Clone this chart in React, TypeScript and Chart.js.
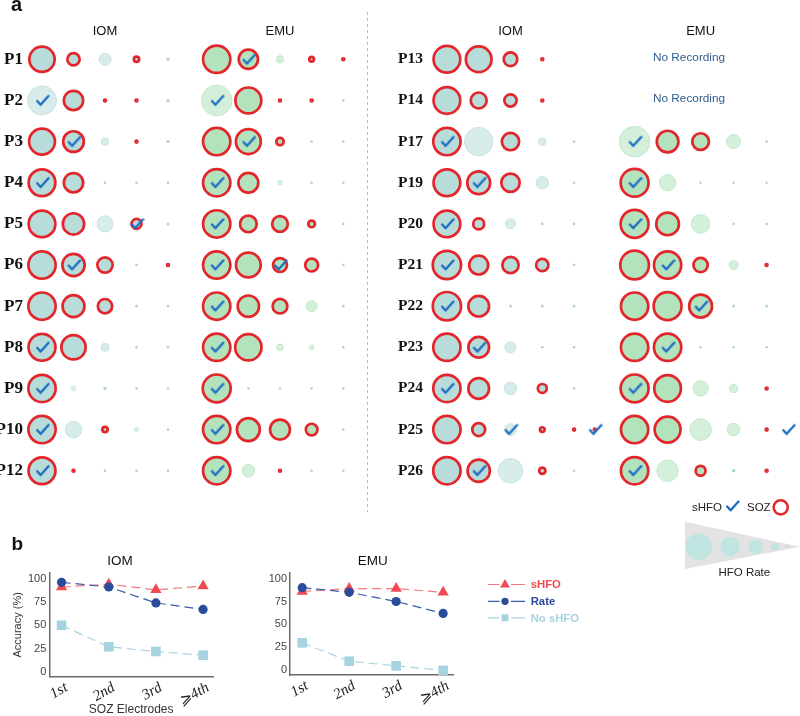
import React, { useEffect, useRef } from 'react';
import { Chart, registerables } from 'chart.js';

Chart.register(...registerables);

// ---------------- data ----------------
const LEFT_PATIENTS = ['P1', 'P2', 'P3', 'P4', 'P5', 'P6', 'P7', 'P8', 'P9', 'P10', 'P12'];
const RIGHT_PATIENTS = ['P13', 'P14', 'P17', 'P19', 'P20', 'P21', 'P22', 'P23', 'P24', 'P25', 'P26'];

// relative HFO rate per electrode (ranked), SOZ flag, sHFO flag
const IOM_L_RATE = [
  [14, 7.5, 6, 4, 1.5], [14.5, 11, 2.3, 2.3, 1.5], [14.3, 11.7, 3.7, 2.3, 1.5], [14.7, 11, 1.3, 1.3, 1.3],
  [14.7, 12, 8, 6.3, 1.5], [15, 12.5, 9, 1.3, 2.3], [15, 12.3, 8.5, 1.3, 1.3], [14.8, 13.5, 4, 1.3, 1.3],
  [15, 3, 1.7, 1.3, 1.3], [15, 8.3, 4, 2.7, 1.3], [14.8, 2.3, 1.3, 1.3, 1.3],
];
const IOM_L_SOZ = [
  [1, 1, 0, 1, 0], [0, 1, 1, 1, 0], [1, 1, 0, 1, 0], [1, 1, 0, 0, 0], [1, 1, 0, 1, 0], [1, 1, 1, 0, 1],
  [1, 1, 1, 0, 0], [1, 1, 0, 0, 0], [1, 0, 0, 0, 0], [1, 0, 1, 0, 0], [1, 1, 0, 0, 0],
];
const IOM_L_SHFO = [
  [0, 0, 0, 0, 0], [1, 0, 0, 0, 0], [0, 1, 0, 0, 0], [1, 0, 0, 0, 0], [0, 0, 0, 1, 0], [0, 1, 0, 0, 0],
  [0, 0, 0, 0, 0], [1, 0, 0, 0, 0], [1, 0, 0, 0, 0], [1, 0, 0, 0, 0], [1, 0, 0, 0, 0],
];

const EMU_L_RATE = [
  [15, 11, 3.7, 3.7, 2.3], [15.3, 14.3, 2.3, 2.3, 1.3], [15, 13.8, 5, 1.3, 1.3], [15, 11.3, 3, 1.3, 1.3],
  [15, 9.7, 9.2, 4.7, 1.3], [15, 13.7, 8.3, 7.8, 1.3], [15, 12, 8.7, 5.5, 1.3], [15, 14.5, 3.3, 3, 1.3],
  [15.3, 1.3, 1.3, 1.3, 1.3], [15, 12.8, 11.3, 7.2, 1.3], [15, 6.3, 2.3, 1.3, 1.3],
];
const EMU_L_SOZ = [
  [1, 1, 0, 1, 1], [0, 1, 1, 1, 0], [1, 1, 1, 0, 0], [1, 1, 0, 0, 0], [1, 1, 1, 1, 0], [1, 1, 1, 1, 0],
  [1, 1, 1, 0, 0], [1, 1, 0, 0, 0], [1, 0, 0, 0, 0], [1, 1, 1, 1, 0], [1, 0, 1, 0, 0],
];
const EMU_L_SHFO = [
  [0, 1, 0, 0, 0], [1, 0, 0, 0, 0], [0, 1, 0, 0, 0], [1, 0, 0, 0, 0], [1, 0, 0, 0, 0], [1, 0, 1, 0, 0],
  [1, 0, 0, 0, 0], [1, 0, 0, 0, 0], [1, 0, 0, 0, 0], [1, 0, 0, 0, 0], [1, 0, 0, 0, 0],
];

const IOM_R_RATE = [
  [14.7, 14.2, 8.2, 2.3], [14.7, 9.3, 7.5, 2.3], [15, 14.2, 10, 3.8, 1.3], [14.7, 12.8, 10.5, 6.2, 1.3],
  [14.7, 6.8, 5, 1.3, 1.3], [15.5, 10.8, 9.5, 7.5, 1.3], [15.5, 11.7, 1.3, 1.3, 1.3], [15, 11.7, 5.5, 1.3, 1.3],
  [15, 11.7, 6.3, 5.8, 1.3], [15, 7.8, 5.8, 3.7, 2.3, 2], [15, 12.5, 12.2, 4.5, 1.3],
];
const IOM_R_SOZ = [
  [1, 1, 1, 1], [1, 1, 1, 1], [1, 0, 1, 0, 0], [1, 1, 1, 0, 0], [1, 1, 0, 0, 0], [1, 1, 1, 1, 0],
  [1, 1, 0, 0, 0], [1, 1, 0, 0, 0], [1, 1, 0, 1, 0], [1, 1, 0, 1, 1, 1], [1, 1, 0, 1, 0],
];
const IOM_R_SHFO = [
  [0, 0, 0, 0], [0, 0, 0, 0], [1, 0, 0, 0, 0], [0, 1, 0, 0, 0], [1, 0, 0, 0, 0], [1, 0, 0, 0, 0],
  [1, 0, 0, 0, 0], [0, 1, 0, 0, 0], [1, 0, 0, 0, 0], [0, 0, 1, 0, 0, 1], [0, 1, 0, 0, 0],
];

const EMU_R_RATE = [
  [], [], [15.3, 12.2, 9.7, 7, 1.3], [15.3, 8.2, 1.3, 1.3, 1.3], [15.3, 12.7, 9.3, 1.3, 1.3],
  [15.7, 15, 8.5, 4.5, 2.3], [15, 15.3, 12.8, 1.3, 1.3], [15, 15, 1.3, 1.3, 1.3], [15.3, 14.7, 7.7, 4.2, 2.3],
  [15, 14.3, 10.8, 6.3, 2.3, 0], [15, 10.7, 6.3, 1.7, 2.3],
];
const EMU_R_SOZ = [
  [], [], [0, 1, 1, 0, 0], [1, 0, 0, 0, 0], [1, 1, 0, 0, 0], [1, 1, 1, 0, 1], [1, 1, 1, 0, 0],
  [1, 1, 0, 0, 0], [1, 1, 0, 0, 1], [1, 1, 0, 0, 1, 0], [1, 0, 1, 0, 1],
];
const EMU_R_SHFO = [
  [], [], [1, 0, 0, 0, 0], [1, 0, 0, 0, 0], [1, 0, 0, 0, 0], [0, 1, 0, 0, 0], [0, 0, 1, 0, 0],
  [0, 1, 0, 0, 0], [1, 0, 0, 0, 0], [0, 0, 0, 0, 0, 1], [1, 0, 0, 0, 0],
];

// panel b
const X_LABELS = ['1st', '2nd', '3rd', '⩾4th'];
const Y_TICKS = [0, 25, 50, 75, 100];
const IOM_SHFO_ACC = [91, 94, 88, 92];
const IOM_RATE_ACC = [96, 91, 74, 67];
const IOM_NOSHFO_ACC = [50, 27, 22, 18];
const EMU_SHFO_ACC = [86, 89, 89, 85];
const EMU_RATE_ACC = [90, 85, 75, 62];
const EMU_NOSHFO_ACC = [30, 10, 5, 0];

// ---------------- style / layout ----------------
const SANS = '"Liberation Sans", Arial, sans-serif';
const SERIF = '"Liberation Serif", "DejaVu Serif", serif';
const RED = '#e3262b';
const CHECK_BLUE = '#1c6dc2';
const AXIS = '#6a6a6a';
const SOZ_BORDER = 2.7;
const COL_SLOTS = [0, 1, 2, 3, 4, 4.65];
const NO_REC_SLOT = 1.65;

const IOM_PAL = { soz: '#b8dcda', light: '#d8edeb', lightBorder: '#c6e3e0', dot: '#a9d4d0' };
const EMU_PAL = { soz: '#b3e3bd', light: '#d5f0da', lightBorder: '#c2e8ca', dot: '#a9dcb2' };

function makeCheckImage(): HTMLCanvasElement {
  const c = document.createElement('canvas');
  c.width = 16;
  c.height = 14;
  const g = c.getContext('2d')!;
  g.strokeStyle = CHECK_BLUE;
  g.lineWidth = 2.3;
  g.lineCap = 'round';
  g.lineJoin = 'round';
  g.beginPath();
  g.moveTo(3.2, 7.5);
  g.lineTo(6.6, 11.3);
  g.lineTo(14.5, 2.5);
  g.stroke();
  return c;
}

function slotAxis(originPx: number, stepPx: number, areaLeft: number, areaRight: number) {
  const min = (areaLeft - originPx) / stepPx;
  const max = (areaRight - originPx) / stepPx;
  return {
    type: 'linear',
    axis: 'x',
    position: 'bottom',
    display: false,
    bounds: 'data',
    min,
    max,
    afterBuildTicks: (s: any) => {
      s.min = min;
      s.max = max;
      s.ticks = [{ value: min }, { value: max }];
    },
  };
}

function bubbleDatasets(patients: string[], rates: number[][], soz: number[][], shfo: number[][], axisId: string, pal: any, check: HTMLCanvasElement) {
  const pts: any[] = [];
  const bg: string[] = [];
  const bc: string[] = [];
  const bw: number[] = [];
  const checks: any[] = [];
  rates.forEach((row, ri) => {
    row.forEach((rate, ci) => {
      const slot = COL_SLOTS[ci];
      if (rate > 0) {
        const isSoz = soz[ri][ci] === 1;
        pts.push({ x: slot, y: patients[ri], r: isSoz ? Math.max(rate - SOZ_BORDER / 2, 0.9) : rate });
        bg.push(isSoz ? pal.soz : rate <= 2 ? pal.dot : pal.light);
        bc.push(isSoz ? RED : pal.lightBorder);
        bw.push(isSoz ? SOZ_BORDER : rate > 3 ? 1 : 0);
      }
      if (shfo[ri][ci] === 1) checks.push({ x: slot, y: patients[ri], r: 6 });
    });
  });
  return [
    { type: 'bubble', data: checks, pointStyle: check, xAxisID: axisId, yAxisID: 'y', order: 0, clip: false, backgroundColor: 'rgba(0,0,0,0)', borderWidth: 0 },
    { type: 'bubble', data: pts, backgroundColor: bg, borderColor: bc, borderWidth: bw, xAxisID: axisId, yAxisID: 'y', order: 1, clip: false },
  ];
}

function bubbleChart(canvas: HTMLCanvasElement, cfg: any) {
  return new Chart(canvas, {
    type: 'bubble',
    data: { datasets: cfg.datasets },
    options: {
      animation: false,
      responsive: false,
      events: [],
      layout: { autoPadding: false, padding: { top: 38.75, bottom: cfg.padBottom, left: 0, right: 0 } },
      plugins: { legend: { display: false }, tooltip: { enabled: false } },
      scales: {
        y: {
          type: 'category',
          labels: cfg.patients,
          offset: true,
          grid: { display: false, drawTicks: false },
          border: { display: false },
          ticks: { autoSkip: false, padding: 0, color: '#111', font: { family: SERIF, weight: 'bold', size: cfg.labelSize } },
          afterFit: (s: any) => { s.width = cfg.labelRight; },
        },
        xI: cfg.iomAxis,
        xE: cfg.emuAxis,
      },
    } as any,
    plugins: cfg.plugins,
  } as any);
}

function accuracyChart(canvas: HTMLCanvasElement, series: any[], cfg: any) {
  return new Chart(canvas, {
    type: 'line',
    data: {
      datasets: series.map((s) => ({
        label: s.label,
        data: s.values.map((v: number, i: number) => ({ x: i, y: v })),
        borderColor: s.line,
        borderWidth: 1.2,
        borderDash: [9, 5],
        pointStyle: s.marker,
        pointRadius: s.radius,
        pointBackgroundColor: s.fill,
        pointBorderColor: s.fill,
        pointBorderWidth: 0,
        order: s.order,
        tension: 0,
        fill: false,
        clip: false,
      })),
    },
    options: {
      animation: false,
      responsive: false,
      events: [],
      layout: { autoPadding: false, padding: { top: 43, right: cfg.padRight, left: 0, bottom: 0 } },
      plugins: { legend: { display: false }, tooltip: { enabled: false } },
      scales: {
        x: {
          type: 'linear',
          min: -0.26,
          max: 3.21,
          grid: { display: false, drawTicks: false },
          border: { display: true, color: AXIS, width: 1.5 },
          afterBuildTicks: (s: any) => { s.ticks = X_LABELS.map((_, i) => ({ value: i })); },
          ticks: {
            autoSkip: false,
            callback: (v: any) => X_LABELS[v] ?? '',
            font: { family: SERIF, style: 'italic', size: 15 },
            color: '#222',
            minRotation: 30,
            maxRotation: 30,
            padding: 2,
            labelOffset: 5,
          },
          title: cfg.xTitle
            ? { display: true, text: cfg.xTitle, color: '#333', font: { family: SANS, size: 12, lineHeight: 1 }, padding: { top: 0, bottom: 0 } }
            : { display: false },
          afterFit: (s: any) => { s.height = cfg.xHeight; },
        },
        y: {
          type: 'linear',
          min: -5,
          max: 106,
          grid: { display: false, drawTicks: false },
          border: { display: true, color: AXIS, width: 1.5 },
          afterBuildTicks: (s: any) => { s.ticks = Y_TICKS.map((v) => ({ value: v })); },
          ticks: { color: '#444', padding: 3, font: { family: SANS, size: 11 } },
          title: cfg.yTitle
            ? { display: true, text: cfg.yTitle, color: '#333', font: { family: SANS, size: 11, lineHeight: 1.2 }, padding: { top: 11.7, bottom: 0 } }
            : { display: false },
          afterFit: (s: any) => { s.width = cfg.yWidth; },
        },
      },
    } as any,
    plugins: cfg.plugins,
  } as any);
}

function textPlugin(id: string, items: any[]) {
  return {
    id,
    afterDraw(chart: any) {
      const ctx = chart.ctx;
      ctx.save();
      items.forEach((t) => {
        ctx.font = t.font;
        ctx.fillStyle = t.color || '#111';
        ctx.textAlign = t.align || 'center';
        ctx.textBaseline = t.baseline || 'middle';
        ctx.fillText(t.text, t.x, t.y);
      });
      ctx.restore();
    },
  };
}

const SERIES_STYLE = {
  shfo: { label: 'sHFO', line: '#f27a80', fill: '#f04a53', marker: 'triangle', radius: 6.5, order: 1 },
  rate: { label: 'Rate', line: '#3a5ba8', fill: '#2b4c9b', marker: 'circle', radius: 4.6, order: 0 },
  none: { label: 'No sHFO', line: '#a6d5e0', fill: '#a6d3df', marker: 'rect', radius: 6.8, order: 2 },
};

export default function App() {
  const aL = useRef<HTMLCanvasElement>(null);
  const aR = useRef<HTMLCanvasElement>(null);
  const bI = useRef<HTMLCanvasElement>(null);
  const bE = useRef<HTMLCanvasElement>(null);

  useEffect(() => {
    const check = makeCheckImage();

    // ---- panel a, left half ----
    const leftDecor = {
      id: 'leftDecor',
      afterDraw(chart: any) {
        const ctx = chart.ctx;
        ctx.save();
        ctx.fillStyle = '#111';
        ctx.font = `bold 20px ${SANS}`;
        ctx.textAlign = 'left';
        ctx.textBaseline = 'alphabetic';
        ctx.fillText('a', 11, 10.5);
        ctx.font = `13px ${SANS}`;
        ctx.textAlign = 'center';
        ctx.textBaseline = 'middle';
        ctx.fillText('IOM', chart.scales.xI.getPixelForValue(COL_SLOTS[2]), 31);
        ctx.fillText('EMU', chart.scales.xE.getPixelForValue(COL_SLOTS[2]), 31);
        ctx.strokeStyle = '#bdbdbd';
        ctx.lineWidth = 1;
        ctx.setLineDash([3, 3]);
        ctx.beginPath();
        ctx.moveTo(367.5, 12);
        ctx.lineTo(367.5, 512);
        ctx.stroke();
        ctx.restore();
      },
    };
    const cL = bubbleChart(aL.current!, {
      patients: LEFT_PATIENTS,
      labelSize: 17,
      labelRight: 23,
      padBottom: 28.7,
      iomAxis: slotAxis(42, 31.5, 23, 370),
      emuAxis: slotAxis(216.7, 31.65, 23, 370),
      datasets: [
        ...bubbleDatasets(LEFT_PATIENTS, IOM_L_RATE, IOM_L_SOZ, IOM_L_SHFO, 'xI', IOM_PAL, check),
        ...bubbleDatasets(LEFT_PATIENTS, EMU_L_RATE, EMU_L_SOZ, EMU_L_SHFO, 'xE', EMU_PAL, check),
      ],
      plugins: [leftDecor],
    });

    // ---- panel a, right half ----
    const rightDecor = {
      id: 'rightDecor',
      afterDraw(chart: any) {
        const ctx = chart.ctx;
        const xE = chart.scales.xE;
        const y = chart.scales.y;
        ctx.save();
        ctx.fillStyle = '#111';
        ctx.font = `13px ${SANS}`;
        ctx.textAlign = 'center';
        ctx.textBaseline = 'middle';
        ctx.fillText('IOM', chart.scales.xI.getPixelForValue(COL_SLOTS[2]), 31);
        ctx.fillText('EMU', xE.getPixelForValue(COL_SLOTS[2]), 31);
        // no recording rows
        ctx.fillStyle = '#2f5d8c';
        ctx.font = `11.8px ${SANS}`;
        EMU_R_RATE.forEach((row, i) => {
          if (row.length === 0) ctx.fillText('No Recording', xE.getPixelForValue(NO_REC_SLOT), y.getPixelForValue(i) - 1.5);
        });
        // legend: sHFO / SOZ
        ctx.fillStyle = '#222';
        ctx.font = `11.5px ${SANS}`;
        ctx.textAlign = 'left';
        ctx.fillText('sHFO', 324, 507.5);
        ctx.drawImage(check, 364 - 8, 506 - 7);
        ctx.fillText('SOZ', 379, 507.5);
        ctx.beginPath();
        ctx.arc(412.7, 507.3, 7.1, 0, Math.PI * 2);
        ctx.fillStyle = '#fff';
        ctx.fill();
        ctx.strokeStyle = RED;
        ctx.lineWidth = 2.5;
        ctx.stroke();
        // HFO rate wedge
        ctx.fillStyle = '#e3e3e3';
        ctx.beginPath();
        ctx.moveTo(317, 521.7);
        ctx.lineTo(432, 546.7);
        ctx.lineTo(317, 569);
        ctx.closePath();
        ctx.fill();
        ctx.fillStyle = '#c0e4df';
        [[331, 13.3], [362, 9.7], [387.7, 7.3], [407, 3.7], [418.7, 1.7]].forEach(([cx, r]) => {
          ctx.beginPath();
          ctx.arc(cx, 546.7, r, 0, Math.PI * 2);
          ctx.fill();
        });
        ctx.fillStyle = '#222';
        ctx.textAlign = 'center';
        ctx.fillText('HFO Rate', 376.3, 573);
        ctx.restore();
      },
    };
    const cR = bubbleChart(aR.current!, {
      patients: RIGHT_PATIENTS,
      labelSize: 15.5,
      labelRight: 55,
      padBottom: 98.7,
      iomAxis: slotAxis(78.9, 31.8, 55, 432),
      emuAxis: slotAxis(266.6, 33, 55, 432),
      datasets: [
        ...bubbleDatasets(RIGHT_PATIENTS, IOM_R_RATE, IOM_R_SOZ, IOM_R_SHFO, 'xI', IOM_PAL, check),
        ...bubbleDatasets(RIGHT_PATIENTS, EMU_R_RATE, EMU_R_SOZ, EMU_R_SHFO, 'xE', EMU_PAL, check),
      ],
      plugins: [rightDecor],
    });

    // ---- panel b ----
    const iomSeries = [
      { ...SERIES_STYLE.shfo, values: IOM_SHFO_ACC },
      { ...SERIES_STYLE.rate, values: IOM_RATE_ACC },
      { ...SERIES_STYLE.none, values: IOM_NOSHFO_ACC },
    ];
    const emuSeries = [
      { ...SERIES_STYLE.shfo, values: EMU_SHFO_ACC },
      { ...SERIES_STYLE.rate, values: EMU_RATE_ACC },
      { ...SERIES_STYLE.none, values: EMU_NOSHFO_ACC },
    ];
    const cI = accuracyChart(bI.current!, iomSeries, {
      padRight: 27,
      yWidth: 49.3,
      xHeight: 39.3,
      yTitle: 'Accuracy (%)',
      xTitle: 'SOZ Electrodes',
      plugins: [
        textPlugin('iomText', [
          { text: 'b', x: 11.5, y: 20, font: `bold 19px ${SANS}`, align: 'left', baseline: 'alphabetic' },
          { text: 'IOM', x: 120, y: 31, font: `13.5px ${SANS}` },
        ]),
      ],
    });

    const legendPlugin = {
      id: 'accLegend',
      afterDraw(chart: any) {
        const ctx = chart.ctx;
        const rows = [54.5, 71.3, 87.8];
        ctx.save();
        chart.data.datasets.forEach((ds: any, i: number) => {
          const y = rows[i];
          ctx.strokeStyle = ds.borderColor;
          ctx.lineWidth = 1.2;
          ctx.setLineDash([]);
          ctx.beginPath();
          ctx.moveTo(248, y);
          ctx.lineTo(259.5, y);
          ctx.moveTo(271, y);
          ctx.lineTo(285, y);
          ctx.stroke();
          ctx.fillStyle = ds.pointBackgroundColor;
          ctx.beginPath();
          if (ds.pointStyle === 'triangle') {
            ctx.moveTo(265, y - 5.5);
            ctx.lineTo(270, y + 3);
            ctx.lineTo(260, y + 3);
            ctx.closePath();
          } else if (ds.pointStyle === 'circle') {
            ctx.arc(265, y, 3.6, 0, Math.PI * 2);
          } else {
            ctx.rect(261.5, y - 3.5, 7, 7);
          }
          ctx.fill();
          ctx.font = `bold 11.3px ${SANS}`;
          ctx.textAlign = 'left';
          ctx.textBaseline = 'middle';
          ctx.fillText(ds.label, 290.7, y + 0.8);
        });
        ctx.restore();
      },
    };
    const cE = accuracyChart(bE.current!, emuSeries, {
      padRight: 127,
      yWidth: 50,
      xHeight: 41,
      plugins: [
        textPlugin('emuText', [{ text: 'EMU', x: 132.7, y: 31.5, font: `13.5px ${SANS}` }]),
        legendPlugin,
      ],
    });

    return () => {
      cL.destroy();
      cR.destroy();
      cI.destroy();
      cE.destroy();
    };
  }, []);

  return (
    <div style={{ position: 'absolute', left: 0, top: 0, width: 800, height: 716, background: '#fff', overflow: 'hidden' }}>
      <canvas ref={aL} width={370} height={520} style={{ position: 'absolute', left: 0, top: 0 }} />
      <canvas ref={aR} width={432} height={590} style={{ position: 'absolute', left: 368, top: 0 }} />
      <canvas ref={bI} width={240} height={186} style={{ position: 'absolute', left: 0, top: 530 }} />
      <canvas ref={bE} width={340} height={186} style={{ position: 'absolute', left: 240, top: 530 }} />
    </div>
  );
}
